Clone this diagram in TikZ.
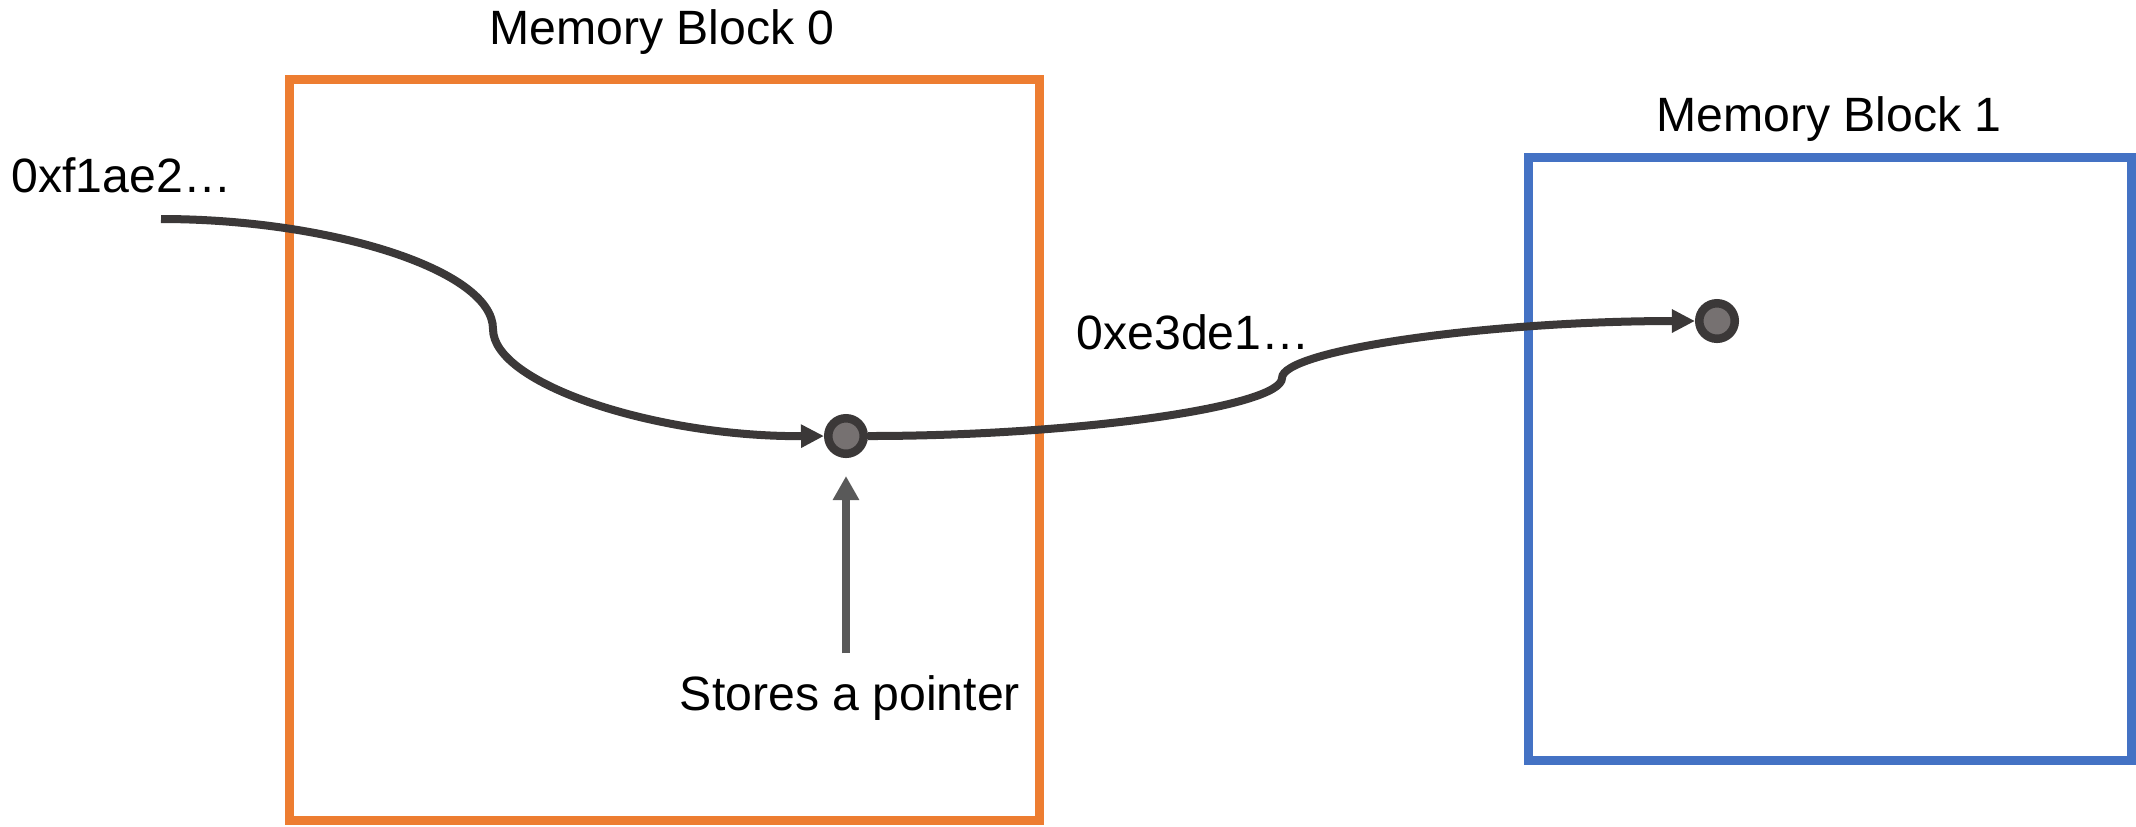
\documentclass[tikz,border=0pt]{standalone}
\usepackage{fontspec}
\setmainfont{Liberation Sans}
\usetikzlibrary{arrows.meta}
\definecolor{blockorange}{HTML}{ED7D31}
\definecolor{blockblue}{HTML}{4472C4}
\definecolor{wire}{HTML}{3B3838}
\definecolor{dotfill}{HTML}{767171}
\definecolor{pointergray}{HTML}{595959}
\tikzset{
  block/.style={line width=0.09cm},
  label/.style={font=\fontsize{13.7pt}{16pt}\selectfont, inner sep=0pt},
  dot/.style={circle, draw=wire, fill=dotfill, line width=0.085cm, minimum size=0.355cm, inner sep=0pt},
  conn/.style={draw=wire, line width=0.08cm, -{Triangle[length=0.23cm, width=0.22cm]}},
  ptr/.style={draw=pointergray, line width=0.075cm, -{Triangle[length=0.24cm, width=0.25cm]}},
}
\begin{document}
\begin{tikzpicture}[x=0.01cm, y=-0.01cm]
  \useasboundingbox (0,0) rectangle (2136,826);
  % memory blocks
  \draw[block, blockorange] (289,79) rectangle (1039,820);
  \draw[block, blockblue] (1528,157) rectangle (2131,760);
  \node[label, anchor=base] (t0) at (662,44) {Memory Block 0};
  \node[label, anchor=base] (t1) at (1829,131) {Memory Block 1};
  % addresses and note
  \node[label, anchor=base west] (a0) at (11,192) {0xf1ae2…};
  \node[label, anchor=base west] (a1) at (1076,349) {0xe3de1…};
  \node[label, anchor=base] (note) at (850,710) {Stores a pointer};
  % pointer cells
  \node[dot] (p0) at (846,436) {};
  \node[dot] (p1) at (1717,321) {};
  \coordinate (src) at (161,219);
  % connectors
  \draw[conn] (src) .. controls (330,219) and (493,270) .. (493,329)
                    .. controls (493,384) and (656,437) .. (p0.west);
  \draw[conn] (p0.east) .. controls (1074,436) and (1282,407) .. (1282,378)
                        .. controls (1282,350) and (1488,321) .. (p1.west);
  \draw[ptr, shorten <=0.21cm, shorten >=0.18cm] (note.north -| p0) -- (p0.south);
\end{tikzpicture}
\end{document}
